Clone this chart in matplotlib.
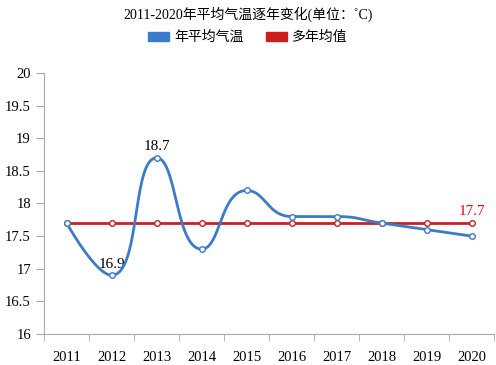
import numpy as np
import matplotlib
matplotlib.use("Agg")
import matplotlib.pyplot as plt
from matplotlib.patches import Patch

plt.rcParams['font.family'] = ['Liberation Serif', 'Noto Sans CJK SC']

years = ["2011", "2012", "2013", "2014", "2015", "2016", "2017", "2018", "2019", "2020"]
avg_temp = [17.7, 16.9, 18.7, 17.3, 18.2, 17.8, 17.8, 17.7, 17.6, 17.5]
mean_all = [17.7] * 10

blue = "#3a7cc9"
red = "#cc2020"


# smooth line like echarts (bezier with constrained control points), in pixel space
def smooth_line(px, py, smooth=0.5, n=40):
    t = np.linspace(0, 1, n)[:, None]
    out = [np.array([px[0], py[0]])]
    cp0 = np.array([px[0], py[0]])
    for k in range(1, len(px)):
        p = np.array([px[k], py[k]])
        prev = np.array([px[k - 1], py[k - 1]])
        if k == len(px) - 1:
            cp1 = p.copy()
            nxt_cp0 = p.copy()
        else:
            nxt = np.array([px[k + 1], py[k + 1]])
            v = nxt - prev
            lp = np.hypot(*(p - prev))
            ln = np.hypot(*(nxt - p))
            r = ln / (ln + lp)
            nxt_cp0 = p + v * smooth * r
            nxt_cp0 = np.minimum(nxt_cp0, np.maximum(nxt, p))
            nxt_cp0 = np.maximum(nxt_cp0, np.minimum(nxt, p))
            cp1 = p - (nxt_cp0 - p) * lp / ln
            cp1 = np.minimum(cp1, np.maximum(prev, p))
            cp1 = np.maximum(cp1, np.minimum(prev, p))
            nxt_cp0 = p + (p - cp1) * ln / lp
        seg = ((1 - t) ** 3 * prev + 3 * (1 - t) ** 2 * t * cp0
               + 3 * (1 - t) * t ** 2 * cp1 + t ** 3 * p)
        out.append(seg[1:])
        cp0 = nxt_cp0
    return np.vstack(out)


fig = plt.figure(figsize=(4.96, 3.65), dpi=100)
ax = fig.add_axes([0.089, 0.085, 0.907, 0.715])

x = np.arange(len(years))
ax.set_xlim(-0.5, 9.5)
ax.set_ylim(16, 20)

pix = ax.transData.transform(np.column_stack([x, avg_temp]))
curve = ax.transData.inverted().transform(smooth_line(pix[:, 0], pix[:, 1]))

ax.plot(x, mean_all, color=red, lw=2, zorder=2)
ax.plot(x, mean_all, ls="none", marker="o", ms=4, mfc="white", mec=red, mew=1, zorder=3)
ax.plot(curve[:, 0], curve[:, 1], color=blue, lw=2, zorder=4)
ax.plot(x, avg_temp, ls="none", marker="o", ms=4, mfc="white", mec=blue, mew=1, zorder=5)

ax.text(1, 16.9 + 0.07, "16.9", ha="center", va="bottom", fontsize=11)
ax.text(2, 18.7 + 0.07, "18.7", ha="center", va="bottom", fontsize=11)
ax.text(9, 17.7 + 0.07, "17.7", ha="center", va="bottom", fontsize=11, color="red")

ax.set_yticks(np.arange(16, 20.01, 0.5))
ax.set_yticklabels(["16", "16.5", "17", "17.5", "18", "18.5", "19", "19.5", "20"])
ax.set_xticks(x)
ax.set_xticklabels(years)
ax.set_xticks(np.arange(-0.5, 9.6, 1), minor=True)
ax.tick_params(axis="x", which="major", length=0, pad=12, labelsize=10.5)
ax.tick_params(axis="x", which="minor", length=5, color="#aaaaaa")
ax.tick_params(axis="y", length=6, color="#aaaaaa", labelsize=10.5)
for s in ["top", "right"]:
    ax.spines[s].set_visible(False)
for s in ["left", "bottom"]:
    ax.spines[s].set_color("#aaaaaa")

fig.text(0.5, 0.962, "2011-2020年平均气温逐年变化(单位：˚C)", ha="center", va="center", fontsize=10)
handles = [Patch(color=blue), Patch(color=red)]
fig.legend(handles, ["年平均气温", "多年均值"], loc="center", bbox_to_anchor=(0.5, 0.897),
           ncol=2, frameon=False, fontsize=10, handlelength=1.5, handleheight=0.6,
           columnspacing=1.6, handletextpad=0.4)

fig.savefig("out.png", dpi=100)
